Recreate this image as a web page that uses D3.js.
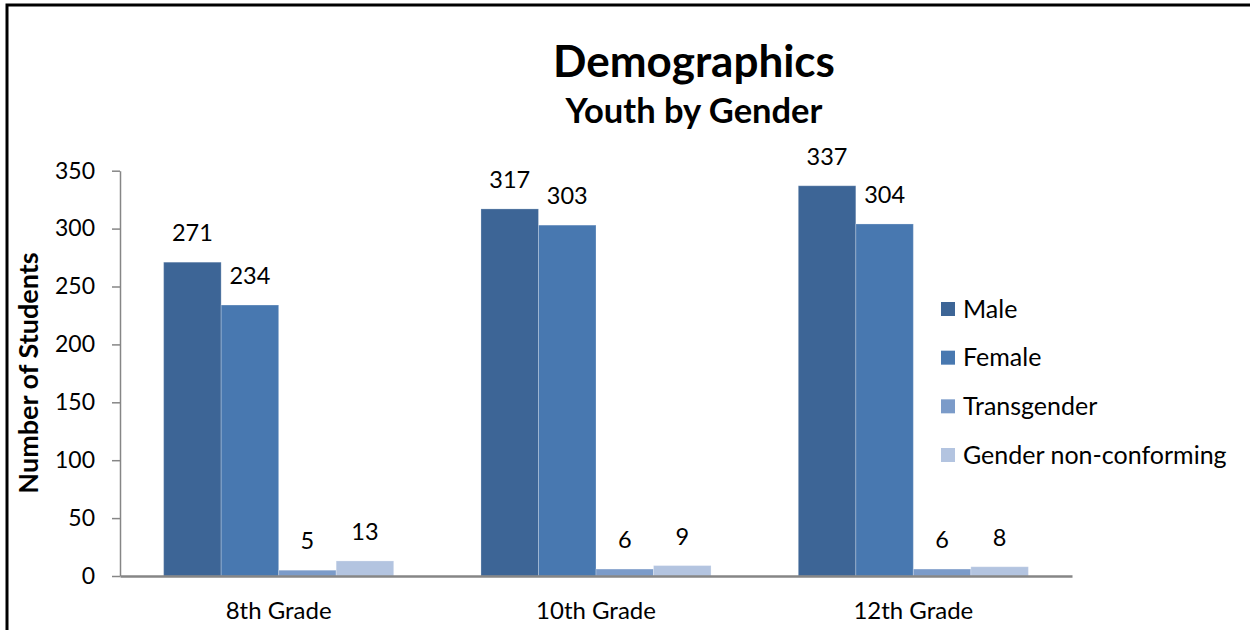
<!DOCTYPE html>
<html>
<head>
<meta charset="utf-8">
<script src="https://cdn.jsdelivr.net/npm/d3@7"></script>
<style>
  html, body { margin: 0; padding: 0; background: #fff; }
  svg { display: block; font-family: Lato, "Open Sans", sans-serif; }
</style>
</head>
<body>
<svg id="chart" width="1250" height="630"></svg>
<script>
const grades = ["8th Grade", "10th Grade", "12th Grade"];
const seriesNames = ["Male", "Female", "Transgender", "Gender non-conforming"];
const male = [271, 317, 337];
const female = [234, 303, 304];
const transgender = [5, 6, 6];
const nonConforming = [13, 9, 8];
const yTicks = [0, 50, 100, 150, 200, 250, 300, 350];
const colors = ["#3D6596", "#4878B0", "#7B9BC9", "#B3C4E0"];

(function () {
const seriesValues = [male, female, transgender, nonConforming];
const rows = grades.map((g, i) => ({
  grade: g,
  values: seriesNames.map((s, j) => ({ series: s, value: seriesValues[j][i] }))
}));

const svg = d3.select("#chart");
svg.append("rect").attr("width", 1250).attr("height", 630).attr("fill", "#fff");

// outer frame (extends past right/bottom edges)
svg.append("rect")
  .attr("x", 7).attr("y", 5).attr("width", 1400).attr("height", 800)
  .attr("fill", "none").attr("stroke", "#000").attr("stroke-width", 3);

const plotL = 120, plotR = 1072, plotT = 170.7, plotB = 576;

const y = d3.scaleLinear().domain([0, 350]).range([plotB, plotT]);
const x0 = d3.scaleBand().domain(grades).range([plotL, plotR])
  .paddingInner(0.275).paddingOuter(0.1375);
const x1 = d3.scaleBand().domain(seriesNames).range([0, x0.bandwidth()]).padding(0);
const color = d3.scaleOrdinal().domain(seriesNames).range(colors);

// titles
svg.append("text").attr("x", 694).attr("y", 77).attr("text-anchor", "middle")
  .attr("font-size", 44).attr("font-weight", "bold").attr("fill", "#000").text("Demographics");
svg.append("text").attr("x", 694).attr("y", 123).attr("text-anchor", "middle")
  .attr("font-size", 34.5).attr("font-weight", "bold").attr("fill", "#000").text("Youth by Gender");

// y axis
const yAxis = svg.append("g").attr("transform", `translate(${plotL},0)`)
  .call(d3.axisLeft(y).tickValues(yTicks).tickSize(8).tickPadding(17).tickSizeOuter(0));
yAxis.select(".domain").attr("stroke", "#868686").attr("stroke-width", 1.5);
yAxis.selectAll(".tick line").attr("stroke", "#868686").attr("stroke-width", 1.5);
yAxis.selectAll(".tick text").attr("font-size", 23).attr("fill", "#000")
  .attr("font-family", "Lato, 'Open Sans', sans-serif");

// y title
svg.append("text")
  .attr("transform", "translate(38,373) rotate(-90)")
  .attr("text-anchor", "middle")
  .attr("font-size", 27).attr("font-weight", "bold").attr("fill", "#000")
  .text("Number of Students");

// bars
const groups = svg.append("g").selectAll("g").data(rows).join("g")
  .attr("transform", d => `translate(${x0(d.grade)},0)`);
groups.selectAll("rect").data(d => d.values).join("rect")
  .attr("x", d => x1(d.series))
  .attr("y", d => y(d.value))
  .attr("width", x1.bandwidth())
  .attr("height", d => y(0) - y(d.value))
  .attr("fill", d => color(d.series))
  .attr("stroke", "rgba(255,255,255,0.25)").attr("stroke-width", 1);
groups.selectAll("text").data(d => d.values).join("text")
  .attr("x", d => x1(d.series) + x1.bandwidth() / 2)
  .attr("y", d => y(d.value) - 21)
  .attr("text-anchor", "middle")
  .attr("font-size", 23.5).attr("fill", "#000")
  .text(d => d.value);

// x axis
const xAxis = svg.append("g").attr("transform", `translate(0,${plotB})`)
  .call(d3.axisBottom(x0).tickSize(0).tickPadding(26).tickSizeOuter(0));
xAxis.select(".domain").attr("stroke", "#868686").attr("stroke-width", 2.5);
xAxis.selectAll(".tick text").attr("font-size", 24).attr("fill", "#000")
  .attr("font-family", "Lato, 'Open Sans', sans-serif");

// legend
const legend = svg.append("g");
const legendY = d3.scalePoint().domain(seriesNames).range([309, 455]);
const items = legend.selectAll("g").data(seriesNames).join("g")
  .attr("transform", d => `translate(941,${legendY(d)})`);
items.append("rect").attr("x", 0).attr("y", -7).attr("width", 14).attr("height", 14)
  .attr("fill", d => color(d));
items.append("text").attr("x", 22).attr("y", 0).attr("dy", "0.35em")
  .attr("font-size", 25).attr("fill", "#000").text(d => d);
})();
</script>
</body>
</html>
